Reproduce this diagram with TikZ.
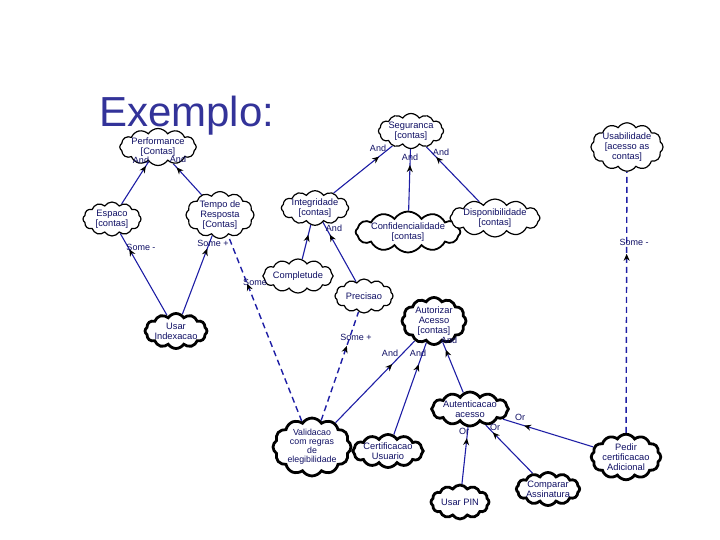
\documentclass[tikz,border=0pt]{standalone}
\usepackage{fontspec}
\setmainfont{Liberation Sans}
\usetikzlibrary{shapes.symbols,arrows.meta,decorations.markings,backgrounds}
\definecolor{ttl}{RGB}{51,51,153}
\definecolor{edgeblue}{RGB}{30,30,165}
\definecolor{txt}{RGB}{15,15,100}
\begin{document}
\begin{tikzpicture}[x=1pt,y=-1pt,
  goal/.style={cloud, cloud puffs=12, cloud puff arc=115, cloud ignores aspect, draw=black, fill=white, line width=1.2pt, inner sep=0pt, align=center, text=txt, font=\fontsize{9.3}{9.8}\selectfont},
  boldgoal/.style={goal, line width=2.8pt},
  lbl/.style={text=txt, font=\fontsize{9}{10}\selectfont, inner sep=0pt},
  link/.style={draw=edgeblue, line width=1.1pt},
  corr/.style={link, dash pattern=on 6pt off 4pt, line width=1.4pt},
  tipat/.style={postaction={decorate, decoration={markings, mark=at position -#1 with {\arrow{Stealth[length=7pt,width=6pt,color=black]}}}}},
]
\useasboundingbox (0,0) rectangle (720,540);
\node[anchor=base west, text=ttl, font=\fontsize{42}{42}\selectfont, inner sep=0pt] (title) at (99,127) {Exemplo:};

% goals
\node[goal, minimum width=64pt, minimum height=37pt] (perf) at (158,147) {Performance\\{}[Contas]};
\node[goal, minimum width=58pt, minimum height=34pt] (esp) at (112,219) {Espaco\\{}[contas]};
\node[goal, minimum width=68pt, minimum height=45pt] (tempo) at (220,215) {Tempo de\\Resposta\\{}[Contas]};
\node[boldgoal, minimum width=58pt, minimum height=35pt] (usarind) at (176,331) {Usar\\Indexacao};
\node[goal, minimum width=58pt, minimum height=35pt] (seg) at (411,131) {Seguranca\\{}[contas]};
\node[goal, minimum width=60pt, minimum height=32pt] (integ) at (315,208) {Integridade\\{}[contas]};
\node[goal, line width=1.8pt, minimum width=82pt, minimum height=41pt] (conf) at (408,232) {Confidencialidade\\{}[contas]};
\node[goal, minimum width=64pt, minimum height=37pt] (disp) at (495,218) {Disponibilidade\\{}[contas]};
\node[goal, minimum width=68pt, minimum height=39pt] (usab) at (627,147) {Usabilidade\\{}[acesso as\\contas]};
\node[goal, minimum width=59pt, minimum height=34pt] (compl) at (298,276) {Completude};
\node[goal, minimum width=58pt, minimum height=34pt] (prec) at (364,296) {Precisao};
\node[boldgoal, minimum width=64pt, minimum height=47pt] (autz) at (434,321) {Autorizar\\Acesso\\{}[contas]};
\node[boldgoal, minimum width=78pt, minimum height=48pt, font=\fontsize{8.8}{9}\selectfont] (valid) at (312,447) {Validacao\\com regras\\de\\elegibilidade};
\node[boldgoal, minimum width=58pt, minimum height=33pt] (cert) at (388,451) {Certificacao\\Usuario};
\node[boldgoal, minimum width=59pt, minimum height=34pt] (auten) at (470,409) {Autenticacao\\acesso};
\node[boldgoal, minimum width=58pt, minimum height=34pt] (pin) at (460,502) {Usar PIN};
\node[boldgoal, minimum width=58pt, minimum height=33pt] (comp) at (548,489) {Comparar\\Assinatura};
\node[boldgoal, minimum width=66pt, minimum height=39pt] (pedir) at (626,457) {Pedir\\certificacao\\Adicional};

% links
\begin{scope}[on background layer]
\draw[link, tipat=5pt] (esp) -- (perf);
\draw[link, tipat=5pt] (tempo) -- (perf);
\draw[link, tipat=18pt] (usarind) -- (esp);
\draw[link, tipat=14pt] (usarind) -- (tempo);
\draw[corr, tipat=52pt] (valid) -- (tempo);
\draw[corr, tipat=36pt] (valid) -- (prec);
\draw[link, tipat=10pt] (compl) -- (integ);
\draw[link, tipat=14pt] (prec) -- (integ);
\draw[link, tipat=17pt] (integ) -- (seg);
\draw[link, tipat=16pt] (conf) -- (seg);
\draw[link, tipat=14pt] (disp) -- (seg);
\draw[link, tipat=32pt] (valid) -- (autz);
\draw[link, tipat=23pt] (cert) -- (autz);
\draw[link, tipat=8pt] (auten) -- (autz);
\draw[link, tipat=11pt] (pin) -- (auten);
\draw[link, tipat=10pt] (comp) -- (auten);
\draw[link, tipat=22pt] (pedir) -- (auten);
\draw[corr, tipat=82pt] (pedir) -- (usab);
\end{scope}

% labels
\node[lbl] (l1) at (141,160) {And};
\node[lbl] (l2) at (178,159) {And};
\node[lbl] (l3) at (141,247) {Some -};
\node[lbl] (l4) at (213,243) {Some +};
\node[lbl] (l5) at (255,282) {Some};
\node[lbl] (l6) at (356,337) {Some +};
\node[lbl] (l8) at (334,228) {And};
\node[lbl] (l9) at (378,148) {And};
\node[lbl] (l10) at (410,157) {And};
\node[lbl] (l11) at (441,152) {And};
\node[lbl] (l12) at (390,353) {And};
\node[lbl] (l13) at (418,353) {And};
\node[lbl] (l14) at (449,340) {And};
\node[lbl] (l15) at (464,431) {Or};
\node[lbl] (l16) at (495,427) {Or};
\node[lbl] (l17) at (520,417) {Or};
\node[lbl] (l18) at (634,242) {Some -};
\end{tikzpicture}
\end{document}
